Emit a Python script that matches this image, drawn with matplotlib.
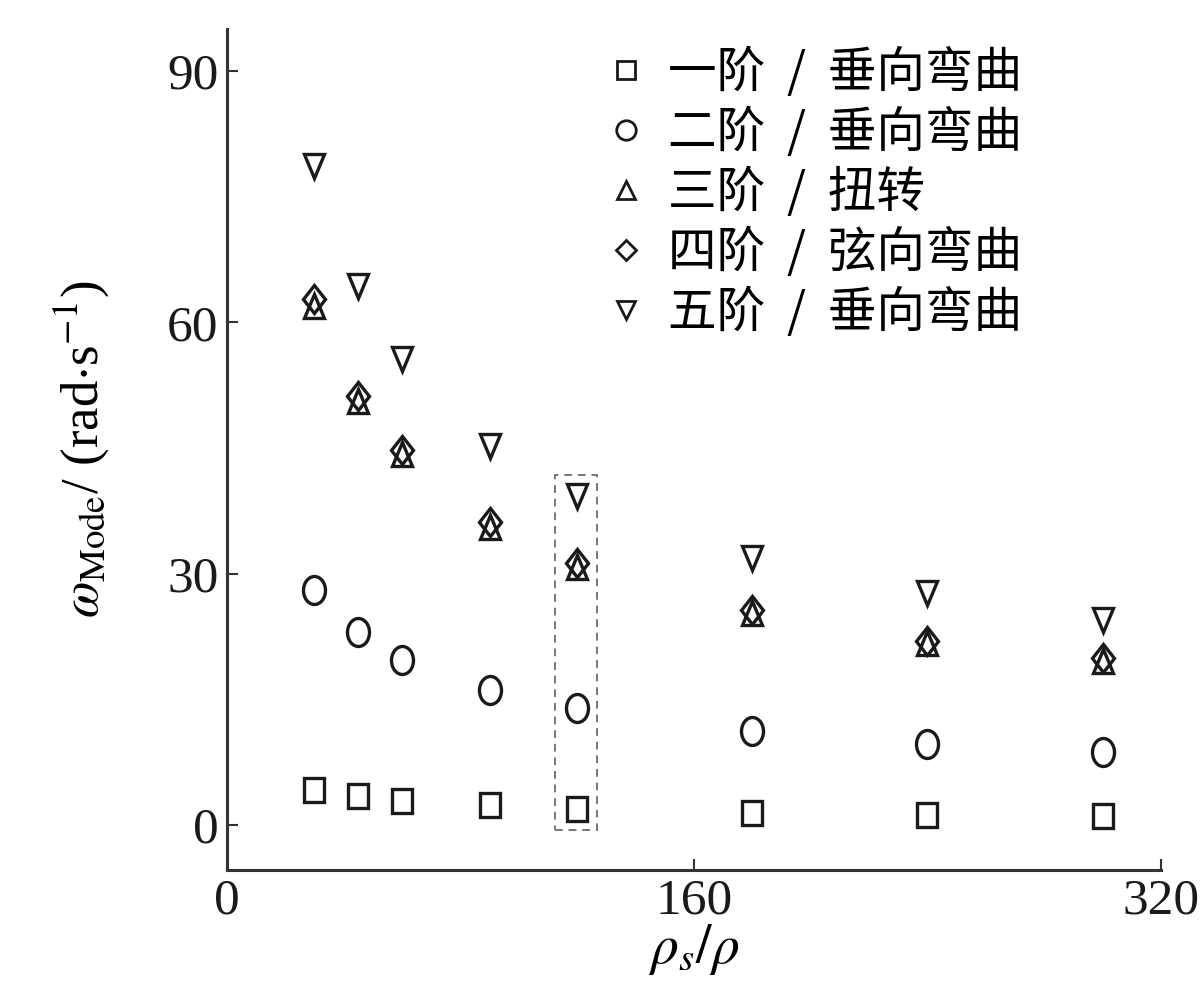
import matplotlib
matplotlib.use("Agg")
import matplotlib.pyplot as plt
from matplotlib.patches import Rectangle
from matplotlib.markers import MarkerStyle
from matplotlib.transforms import Affine2D
from matplotlib.lines import Line2D

plt.rcParams['font.family'] = ['Liberation Serif', 'Noto Sans CJK SC']
plt.rcParams['mathtext.fontset'] = 'stix'

x = [30, 45, 60, 90, 120, 180, 240, 300]
mode1 = [4.2, 3.4, 2.9, 2.4, 1.9, 1.4, 1.2, 1.1]
mode2 = [28.0, 23.0, 19.7, 16.1, 13.9, 11.2, 9.6, 8.7]
mode3 = [62.0, 50.6, 44.3, 35.6, 30.8, 25.3, 21.7, 19.6]
mode4 = [62.8, 51.2, 44.8, 36.2, 31.2, 25.6, 22.0, 19.9]
mode5 = [78.6, 64.3, 55.6, 45.2, 39.2, 31.9, 27.7, 24.5]
labels = ['一阶  /  垂向弯曲', '二阶  /  垂向弯曲', '三阶  /  扭转', '四阶  /  弦向弯曲', '五阶  /  垂向弯曲']
markers = ['s', 'o', '^', 'D', 'v']
sizes = [16, 18, 16, 13, 16]
xticks = [0, 160, 320]
yticks = [0, 30, 60, 90]

fig = plt.figure(figsize=(12, 9.94), dpi=100)
ax = fig.add_axes([0.189, 0.1247, 0.7785, 0.846])

stretch = Affine2D().scale(0.88, 1.12)
handles = []
for ys, m, s, lab in zip([mode1, mode2, mode3, mode4, mode5], markers, sizes, labels):
    ax.plot(x, ys, linestyle='none', marker=MarkerStyle(m, transform=stretch), markersize=s,
            markerfacecolor='none', markeredgecolor='#1a1a1a', markeredgewidth=2.4)
    handles.append(Line2D([], [], linestyle='none', marker=m, markersize=s * 0.78,
                          markerfacecolor='none', markeredgecolor='#1a1a1a',
                          markeredgewidth=2.0, label=lab))

# dashed highlight box around rho_s/rho = 120
ax.add_patch(Rectangle((112.4, -0.6), 14.4, 42.4, fill=False, linestyle=(0, (4, 3)),
                       edgecolor='#777777', linewidth=1.4))

ax.set_xlim(0, 320)
ax.set_ylim(-5.4, 95)
ax.set_xticks(xticks)
ax.set_yticks(yticks)
for side in ['top', 'right']:
    ax.spines[side].set_visible(False)
for side in ['left', 'bottom']:
    ax.spines[side].set_linewidth(2.2)
    ax.spines[side].set_color('#333333')
ax.tick_params(direction='in', length=8, width=1.5, colors='#333333', labelsize=37,
               labelcolor='#1a1a1a', pad=6)

ax.set_xlabel(r'$\rho_s/\rho$', fontsize=40, labelpad=-2)
ax.set_ylabel(r'$\omega_{\rm Mode}$/ (rad$\cdot$s$^{-1}$)', fontsize=38, labelpad=40)

leg = ax.legend(handles=handles, loc='upper left', bbox_to_anchor=(0.355, 1.03), frameon=False,
                prop={'family': ['Noto Sans CJK SC'], 'size': 35},
                handletextpad=0.35, labelspacing=0.2, handlelength=1.0)

fig.savefig('out.png', dpi=100, facecolor='white')
